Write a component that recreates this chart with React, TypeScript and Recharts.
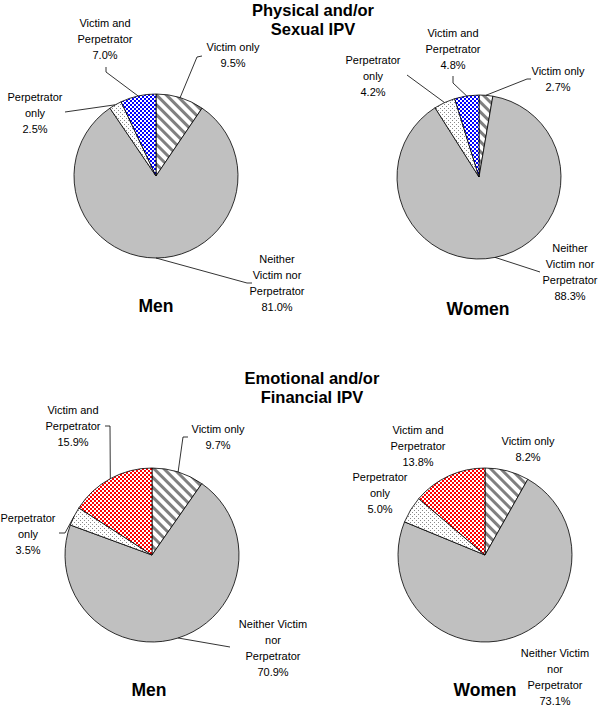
import { PieChart, Pie, Cell } from 'recharts';

// slice order, clockwise from 12 o'clock
const SLICES = ['Victim only', 'Neither Victim nor Perpetrator', 'Perpetrator only', 'Victim and Perpetrator'];

const physicalMen = [9.5, 81.0, 2.5, 7.0];
const physicalWomen = [2.7, 88.3, 4.2, 4.8];
const emotionalMen = [9.7, 70.9, 3.5, 15.9];
const emotionalWomen = [8.2, 73.1, 5.0, 13.8];

const TOP_NAMES = [['Victim only'], ['Neither', 'Victim nor', 'Perpetrator'], ['Perpetrator', 'only'], ['Victim and', 'Perpetrator']];
const BOTTOM_NAMES = [['Victim only'], ['Neither Victim', 'nor', 'Perpetrator'], ['Perpetrator', 'only'], ['Victim and', 'Perpetrator']];

const FONT = '"Liberation Sans", Arial, sans-serif';
const LINE_H = 16;

type Pt = [number, number];
interface LabelPos { dx: number; dy: number; leader?: Pt[] }
interface PieLayout { cx: number; cy: number; r: number; labels: LabelPos[] }

// label placement relative to pie centre (dy = first text line)
const tlLayout: PieLayout = {
  cx: 156, cy: 176, r: 82,
  labels: [
    { dx: 77, dy: -129, leader: [[41, -119], [46, -120]] },
    { dx: 121, dy: 83, leader: [[91, 107], [96, 107]] },
    { dx: -121, dy: -79, leader: [[-91, -64]] },
    { dx: -51, dy: -153, leader: [[-50, -104], [-50, -109]] },
  ],
};
const trLayout: PieLayout = {
  cx: 479, cy: 177, r: 82,
  labels: [
    { dx: 79, dy: -106, leader: [[48, -98], [52, -98]] },
    { dx: 91, dy: 71, leader: [[61, 95]] },
    { dx: -106, dy: -117, leader: [[-72, -102]] },
    { dx: -26, dy: -144, leader: [[-26, -94], [-26, -101]] },
  ],
};
const blLayout: PieLayout = {
  cx: 152, cy: 555, r: 87,
  labels: [
    { dx: 66, dy: -126, leader: [[31, -118], [36, -118]] },
    { dx: 121, dy: 69, leader: [[78, 92]] },
    { dx: -124, dy: -37, leader: [[-87, -22], [-93, -22]] },
    { dx: -79, dy: -145, leader: [[-42, -129], [-47, -129]] },
  ],
};
const brLayout: PieLayout = {
  cx: 485, cy: 555, r: 87,
  labels: [
    { dx: 43, dy: -114 },
    { dx: 70, dy: 98 },
    { dx: -105, dy: -78 },
    { dx: -67, dy: -125 },
  ],
};

const TOP_FILLS = ['url(#stripes)', '#c0c0c0', 'url(#dots)', 'url(#checkBlue)'];
const BOTTOM_FILLS = ['url(#stripes)', '#c0c0c0', 'url(#dots)', 'url(#checkRed)'];

const toData = (values: number[]) => values.map((value, i) => ({ name: SLICES[i], value }));

function makeLabel(layout: PieLayout, names: string[][]) {
  return (p: any) => {
    const { cx, cy, midAngle, outerRadius, index, value } = p;
    const pos = layout.labels[index];
    const rad = Math.PI / 180;
    const sx = cx + outerRadius * Math.cos(-midAngle * rad);
    const sy = cy + outerRadius * Math.sin(-midAngle * rad);
    const lines = [...names[index], `${Number(value).toFixed(1)}%`];
    const pts = pos.leader ? [[sx, sy], ...pos.leader.map(([dx, dy]) => [cx + dx, cy + dy])] : null;
    return (
      <g key={`lbl-${index}`}>
        {pts && (
          <polyline points={pts.map((q) => q.join(',')).join(' ')} fill="none" stroke="#000" strokeWidth={0.8} />
        )}
        {lines.map((t, k) => (
          <text
            key={k}
            x={cx + pos.dx}
            y={cy + pos.dy + k * LINE_H}
            textAnchor="middle"
            dominantBaseline="central"
            fontSize={11}
            fontFamily={FONT}
            fill="#000"
          >
            {t}
          </text>
        ))}
      </g>
    );
  };
}

const pies = [
  { values: physicalMen, layout: tlLayout, names: TOP_NAMES, fills: TOP_FILLS },
  { values: physicalWomen, layout: trLayout, names: TOP_NAMES, fills: TOP_FILLS },
  { values: emotionalMen, layout: blLayout, names: BOTTOM_NAMES, fills: BOTTOM_FILLS },
  { values: emotionalWomen, layout: brLayout, names: BOTTOM_NAMES, fills: BOTTOM_FILLS },
];

const TITLES = [
  { lines: ['Physical and/or', 'Sexual IPV'], x: 313, y: 10 },
  { lines: ['Emotional and/or', 'Financial IPV'], x: 312, y: 378 },
];
const SUBTITLES = [
  { text: 'Men', x: 156, y: 306 },
  { text: 'Women', x: 478, y: 309 },
  { text: 'Men', x: 149, y: 690 },
  { text: 'Women', x: 485, y: 690 },
];

export default function App() {
  return (
    <div style={{ position: 'absolute', left: 0, top: 0, width: 600, height: 707, background: '#fff' }}>
      <PieChart width={600} height={707} margin={{ top: 0, right: 0, bottom: 0, left: 0 }}>
        <defs>
          <pattern id="stripes" width="7" height="7" patternUnits="userSpaceOnUse" patternTransform="rotate(-45)">
            <rect width="7" height="7" fill="#fff" />
            <rect width="3" height="7" fill="#808080" />
          </pattern>
          <pattern id="dots" width="4" height="4" patternUnits="userSpaceOnUse">
            <rect width="4" height="4" fill="#fff" />
            <rect x="0" y="0" width="1" height="1" fill="#888" />
            <rect x="2" y="2" width="1" height="1" fill="#888" />
          </pattern>
          <pattern id="checkBlue" width="4" height="4" patternUnits="userSpaceOnUse">
            <rect width="4" height="4" fill="#0000ff" />
            <rect x="0" y="0" width="2" height="2" fill="#fff" />
            <rect x="2" y="2" width="2" height="2" fill="#fff" />
          </pattern>
          <pattern id="checkRed" width="4" height="4" patternUnits="userSpaceOnUse">
            <rect width="4" height="4" fill="#ff0000" />
            <rect x="0" y="0" width="2" height="2" fill="#fff" />
            <rect x="2" y="2" width="2" height="2" fill="#fff" />
          </pattern>
        </defs>
        {pies.map((pc, pi) => (
          <Pie
            key={pi}
            data={toData(pc.values)}
            dataKey="value"
            nameKey="name"
            cx={pc.layout.cx}
            cy={pc.layout.cy}
            outerRadius={pc.layout.r}
            startAngle={90}
            endAngle={-270}
            stroke="#000"
            strokeWidth={0.8}
            isAnimationActive={false}
            labelLine={false}
            label={makeLabel(pc.layout, pc.names)}
          >
            {pc.values.map((_, i) => (
              <Cell key={i} fill={pc.fills[i]} />
            ))}
          </Pie>
        ))}
        <g>
          {TITLES.map((t, i) =>
            t.lines.map((l, k) => (
              <text
                key={`${i}-${k}`}
                x={t.x}
                y={t.y + k * 19}
                textAnchor="middle"
                dominantBaseline="central"
                fontSize={16.5}
                fontWeight="bold"
                fontFamily={FONT}
              >
                {l}
              </text>
            ))
          )}
          {SUBTITLES.map((s, i) => (
            <text
              key={`s-${i}`}
              x={s.x}
              y={s.y}
              textAnchor="middle"
              dominantBaseline="central"
              fontSize={17.5}
              fontWeight="bold"
              fontFamily={FONT}
            >
              {s.text}
            </text>
          ))}
        </g>
      </PieChart>
    </div>
  );
}
